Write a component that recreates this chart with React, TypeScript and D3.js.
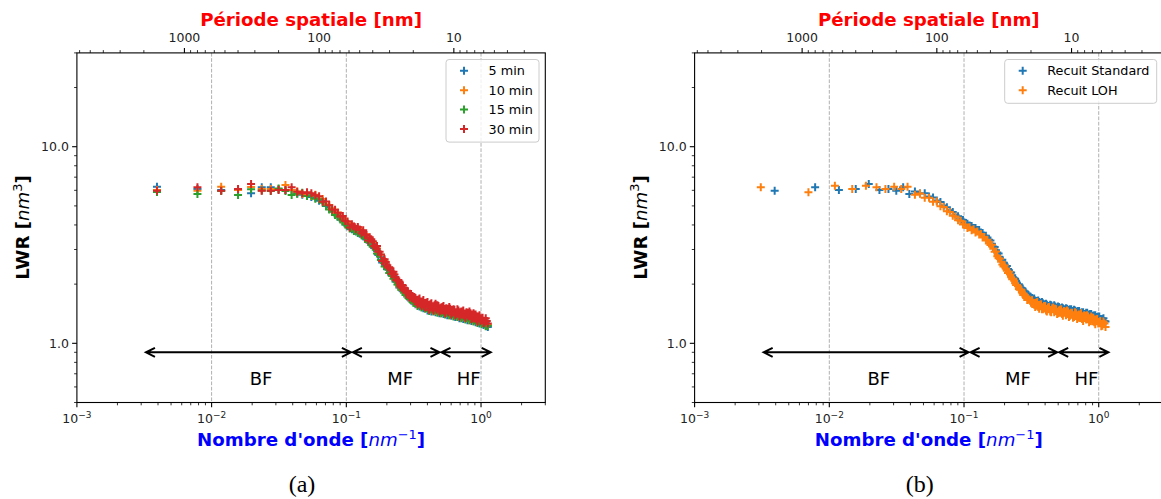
import React from "react";
import * as d3 from "d3";

// ---------------- data ----------------
const K_GRID = [
  0.00393, 0.00785, 0.01178, 0.01571, 0.01963, 0.02356, 0.02749, 0.03142, 0.03534, 0.03927,
  0.0432, 0.0471, 0.0511, 0.055, 0.0589, 0.0628, 0.0668, 0.0707, 0.0746, 0.0785,
  0.0825, 0.0864, 0.0903, 0.0942, 0.0982, 0.1021, 0.106, 0.11, 0.1139, 0.1178,
  0.1217, 0.1257, 0.1296, 0.1335, 0.1374, 0.1414, 0.1453, 0.1492, 0.1571, 0.161,
  0.1689, 0.1728, 0.1806, 0.1846, 0.1924, 0.2003, 0.2081, 0.216, 0.2238, 0.2317,
  0.2395, 0.2474, 0.2553, 0.2631, 0.2749, 0.2827, 0.2945, 0.3024, 0.3142, 0.3259,
  0.3377, 0.3495, 0.3613, 0.3731, 0.3848, 0.4006, 0.4123, 0.428, 0.4438, 0.4595,
  0.4752, 0.4909, 0.5066, 0.5262, 0.5419, 0.5616, 0.5812, 0.6008, 0.6244, 0.644,
  0.6676, 0.6912, 0.7147, 0.7383, 0.7658, 0.7933, 0.8207, 0.8482, 0.8796, 0.9111,
  0.9425, 0.9739, 1.0092, 1.0446, 1.0839, 1.1231,
];
// extra wavenumbers, interleaved in the dense part of the spectrum
const K_EXTRA = [
  0.1532, 0.1649, 0.1767, 0.1885, 0.1964, 0.2042, 0.2121, 0.2199, 0.2278, 0.2356,
  0.2435, 0.2513, 0.2592, 0.267, 0.271, 0.2788, 0.2867, 0.2906, 0.2985, 0.3063, 0.3102,
  0.3201, 0.3318, 0.3436, 0.3554, 0.3672, 0.379, 0.3927, 0.4064, 0.4202, 0.4359,
  0.4516, 0.4673, 0.483, 0.4987, 0.5164, 0.5341, 0.5517, 0.5714, 0.591, 0.6126,
  0.6342, 0.6558, 0.6794, 0.7029, 0.7265, 0.752, 0.7795, 0.807, 0.8345, 0.8639,
  0.8954, 0.9268, 0.9582, 0.9916, 1.0269, 1.0642, 1.1035,
];
const K_LOH_LOW = [0.0031, 0.007, 0.011, 0.0148, 0.0187, 0.0224, 0.0261, 0.0303, 0.0342, 0.0381];

const LWR_5MIN = [
  6.26, 6.09, 6.02, 6.02, 5.79, 6.22, 6.22, 6.05, 6.02, 6.02,
  5.78, 5.7, 5.66, 5.55, 5.5, 5.31, 5.3, 5.0, 4.9, 4.67,
  4.62, 4.4, 4.37, 4.16, 4.12, 3.94, 3.95, 3.8, 3.83, 3.7,
  3.74, 3.61, 3.66, 3.5, 3.52, 3.37, 3.4, 3.25, 3.2, 3.05,
  2.96, 2.81, 2.75, 2.58, 2.55, 2.39, 2.36, 2.22, 2.2, 2.06,
  2.05, 1.92, 1.93, 1.84, 1.81, 1.73, 1.73, 1.65, 1.66, 1.58,
  1.6, 1.54, 1.56, 1.51, 1.55, 1.47, 1.51, 1.45, 1.5, 1.44,
  1.48, 1.42, 1.47, 1.41, 1.45, 1.39, 1.43, 1.38, 1.42, 1.36,
  1.4, 1.34, 1.39, 1.33, 1.37, 1.31, 1.36, 1.3, 1.34, 1.28,
  1.32, 1.26, 1.3, 1.24, 1.27, 1.21,
];
const LWR_10MIN = [
  6.02, 5.97, 6.26, 6.02, 6.24, 6.09, 6.09, 6.09, 6.39, 6.02,
  5.92, 5.74, 5.8, 5.62, 5.7, 5.45, 5.42, 5.1, 5.05, 4.86,
  4.6, 4.63, 4.4, 4.33, 4.1, 4.12, 4.02, 3.86, 3.92, 3.76,
  3.85, 3.7, 3.75, 3.58, 3.6, 3.44, 3.47, 3.33, 3.28, 3.12,
  3.04, 2.87, 2.82, 2.64, 2.62, 2.44, 2.42, 2.26, 2.25, 2.1,
  2.09, 1.95, 1.96, 1.86, 1.83, 1.75, 1.75, 1.67, 1.67, 1.6,
  1.58, 1.58, 1.54, 1.55, 1.52, 1.51, 1.48, 1.49, 1.46, 1.47,
  1.45, 1.46, 1.42, 1.45, 1.41, 1.43, 1.39, 1.42, 1.38, 1.4,
  1.37, 1.39, 1.35, 1.37, 1.33, 1.35, 1.31, 1.34, 1.3, 1.32,
  1.28, 1.3, 1.26, 1.28, 1.23, 1.24,
];
const LWR_15MIN = [
  5.88, 5.75, 5.95, 5.68, 6.07, 5.99, 5.95, 6.13, 5.95, 5.68,
  5.76, 5.84, 5.62, 5.64, 5.44, 5.4, 5.18, 5.04, 4.8, 4.7,
  4.5, 4.44, 4.26, 4.2, 4.02, 3.99, 3.84, 3.85, 3.73, 3.76,
  3.64, 3.66, 3.55, 3.55, 3.41, 3.42, 3.28, 3.3, 3.1, 3.09,
  2.86, 2.85, 2.65, 2.62, 2.46, 2.43, 2.28, 2.26, 2.13, 2.1,
  1.99, 1.96, 1.87, 1.87, 1.76, 1.76, 1.68, 1.69, 1.61, 1.62,
  1.55, 1.57, 1.52, 1.54, 1.5, 1.51, 1.46, 1.49, 1.45, 1.48,
  1.43, 1.46, 1.42, 1.44, 1.4, 1.43, 1.39, 1.41, 1.37, 1.4,
  1.36, 1.38, 1.34, 1.37, 1.32, 1.35, 1.31, 1.33, 1.29, 1.31,
  1.27, 1.29, 1.25, 1.27, 1.22, 1.23,
];
const LWR_30MIN = [
  5.97, 6.22, 5.97, 6.09, 6.46, 5.97, 5.97, 6.02, 6.02, 6.22,
  5.9, 5.8, 5.86, 5.79, 5.66, 5.6, 5.25, 5.27, 5.04, 4.8,
  4.78, 4.62, 4.41, 4.44, 4.19, 4.16, 3.88, 4.03, 3.93, 3.81,
  3.9, 3.79, 3.62, 3.76, 3.56, 3.56, 3.33, 3.46, 3.3, 3.13,
  3.13, 2.92, 2.83, 2.62, 2.68, 2.48, 2.44, 2.26, 2.31, 2.16,
  2.08, 2.06, 1.92, 1.97, 1.84, 1.85, 1.71, 1.78, 1.68, 1.7,
  1.58, 1.69, 1.55, 1.66, 1.52, 1.62, 1.48, 1.6, 1.47, 1.59,
  1.56, 1.45, 1.52, 1.55, 1.42, 1.5, 1.53, 1.4, 1.49, 1.39,
  1.49, 1.37, 1.45, 1.47, 1.35, 1.43, 1.45, 1.33, 1.42, 1.4,
  1.29, 1.39, 1.33, 1.27, 1.34, 1.26,
];
const LWR_30MIN_EXTRA = [
  3.38, 3.06, 2.92, 2.62, 2.59, 2.43, 2.41, 2.26, 2.24, 2.1,
  2.1, 1.97, 1.98, 1.88, 1.91, 1.81, 1.83, 1.76, 1.78, 1.7, 1.74,
  1.72, 1.62, 1.67, 1.58, 1.63, 1.55, 1.61, 1.52, 1.58, 1.5,
  1.56, 1.48, 1.55, 1.47, 1.53, 1.46, 1.51, 1.44, 1.5, 1.43,
  1.48, 1.41, 1.47, 1.4, 1.45, 1.38, 1.44, 1.37, 1.42, 1.34,
  1.4, 1.32, 1.37, 1.3, 1.35, 1.28, 1.3,
];
const LWR_STANDARD = [
  5.97, 6.22, 6.02, 6.09, 6.46, 6.02, 6.09, 5.97, 6.22, 5.75,
  5.92, 5.78, 5.8, 5.58, 5.52, 5.33, 5.24, 5.02, 4.92, 4.75,
  4.66, 4.5, 4.43, 4.28, 4.24, 4.1, 4.06, 3.97, 3.95, 3.86,
  3.86, 3.77, 3.77, 3.66, 3.64, 3.52, 3.52, 3.41, 3.33, 3.21,
  3.09, 2.97, 2.86, 2.73, 2.66, 2.52, 2.47, 2.35, 2.29, 2.17,
  2.13, 2.02, 2.0, 1.92, 1.85, 1.79, 1.76, 1.72, 1.7, 1.66,
  1.65, 1.61, 1.62, 1.59, 1.6, 1.56, 1.57, 1.54, 1.56, 1.53,
  1.54, 1.51, 1.53, 1.5, 1.51, 1.48, 1.5, 1.47, 1.49, 1.45,
  1.47, 1.44, 1.46, 1.42, 1.44, 1.41, 1.43, 1.39, 1.41, 1.37,
  1.39, 1.35, 1.37, 1.32, 1.34, 1.29,
];
const LWR_STANDARD_EXTRA = [
  3.36, 3.11, 2.9, 2.66, 2.58, 2.46, 2.39, 2.3, 2.22, 2.14,
  2.08, 2.0, 1.97, 1.91, 1.9, 1.84, 1.82, 1.79, 1.77, 1.73, 1.73,
  1.7, 1.69, 1.64, 1.65, 1.61, 1.62, 1.58, 1.59, 1.55, 1.57,
  1.54, 1.56, 1.52, 1.54, 1.51, 1.52, 1.49, 1.51, 1.48, 1.49,
  1.46, 1.48, 1.45, 1.46, 1.43, 1.44, 1.41, 1.43, 1.4, 1.41,
  1.38, 1.39, 1.36, 1.37, 1.33, 1.33, 1.3,
];
const LWR_LOH = [
  6.22, 5.86, 6.33, 6.09, 6.33, 6.22, 6.09, 6.26, 6.09, 6.26,
  5.7, 5.78, 5.5, 5.5, 5.25, 5.26, 4.98, 4.94, 4.7, 4.66,
  4.46, 4.42, 4.22, 4.2, 4.02, 4.02, 3.86, 3.89, 3.76, 3.8,
  3.66, 3.7, 3.58, 3.6, 3.45, 3.47, 3.33, 3.36, 3.16, 3.17,
  2.92, 2.93, 2.71, 2.69, 2.52, 2.49, 2.34, 2.31, 2.17, 2.13,
  2.02, 1.98, 1.89, 1.88, 1.76, 1.76, 1.66, 1.67, 1.61, 1.6,
  1.53, 1.62, 1.5, 1.58, 1.49, 1.55, 1.45, 1.53, 1.44, 1.52,
  1.5, 1.41, 1.47, 1.49, 1.38, 1.45, 1.47, 1.36, 1.43, 1.35,
  1.44, 1.33, 1.4, 1.42, 1.3, 1.38, 1.39, 1.28, 1.37, 1.35,
  1.25, 1.33, 1.28, 1.22, 1.29, 1.21,
];
const LWR_LOH_EXTRA = [
  3.22, 3.03, 2.77, 2.6, 2.46, 2.4, 2.28, 2.24, 2.12, 2.08,
  1.98, 1.95, 1.87, 1.86, 1.8, 1.77, 1.72, 1.73, 1.67, 1.67, 1.64,
  1.66, 1.57, 1.61, 1.53, 1.57, 1.49, 1.55, 1.47, 1.52, 1.45,
  1.51, 1.44, 1.49, 1.42, 1.48, 1.41, 1.46, 1.39, 1.45, 1.38,
  1.43, 1.36, 1.42, 1.35, 1.4, 1.33, 1.39, 1.32, 1.37, 1.3,
  1.35, 1.28, 1.32, 1.26, 1.3, 1.23, 1.26,
];

const X_DOMAIN = [1e-3, 3];
const Y_DOMAIN = [0.5, 30];
const X_MAJOR_EXP = ["\u22123", "\u22122", "\u22121", "0"];
const Y_MAJOR_LABELS = ["1.0", "10.0"];
const GRID_K = [0.01, 0.1, 1];
const REGION_EDGES = [0.0032, 0.11, 0.5, 1.2];
const REGION_NAMES = ["BF", "MF", "HF"];
const REGION_LABEL_K = [0.0233, 0.251, 0.81];
const REGION_ARROW_LWR = 0.9;
const REGION_LABEL_LWR = 0.658;
const TWO_PI = 2 * Math.PI;

const SERIES_A = [
  { name: "5 min", color: "#1f77b4", k: K_GRID, v: LWR_5MIN },
  { name: "10 min", color: "#ff7f0e", k: K_GRID, v: LWR_10MIN },
  { name: "15 min", color: "#2ca02c", k: K_GRID, v: LWR_15MIN },
  { name: "30 min", color: "#d62728", k: [...K_GRID, ...K_EXTRA], v: [...LWR_30MIN, ...LWR_30MIN_EXTRA] },
];
const SERIES_B = [
  { name: "Recuit Standard", color: "#1f77b4", k: [...K_GRID, ...K_EXTRA], v: [...LWR_STANDARD, ...LWR_STANDARD_EXTRA] },
  {
    name: "Recuit LOH",
    color: "#ff7f0e",
    k: [...K_LOH_LOW, ...K_GRID.slice(10), ...K_EXTRA],
    v: [...LWR_LOH, ...LWR_LOH_EXTRA],
  },
];

// ---------------- layout ----------------
const W = 1161;
const H = 499;
const PLOT_L = 76.9;
const PLOT_T = 52.9;
const PLOT_W = 468.4;
const PLOT_H = 349.6;
const FONT = "'DejaVu Sans', sans-serif";
const TICK_COLOR = "#222";
const MARK = 4;
const MARK_W = 2;

const isMajor = (v: number) => Math.abs(Math.log10(v) - Math.round(Math.log10(v))) < 1e-6;

function Panel({ id, dx, series, legendW, caption }: any) {
  const x0 = dx + PLOT_L;
  const x1 = x0 + PLOT_W;
  const y0 = PLOT_T;
  const y1 = PLOT_T + PLOT_H;
  const x = d3.scaleLog().domain(X_DOMAIN).range([x0, x1]);
  const y = d3.scaleLog().domain(Y_DOMAIN).range([y1, y0]);
  const xTicks = x.ticks();
  const yTicks = y.ticks();
  const pScale = d3.scaleLog().domain([TWO_PI / X_DOMAIN[1], TWO_PI / X_DOMAIN[0]]);
  const pTicks = pScale.ticks();
  const cx = (x0 + x1) / 2;

  const plusPath = (ks: number[], vs: number[]) => {
    const p = d3.path();
    ks.forEach((k, i) => {
      const px = x(k);
      const py = y(vs[i]);
      p.moveTo(px - MARK, py);
      p.lineTo(px + MARK, py);
      p.moveTo(px, py - MARK);
      p.lineTo(px, py + MARK);
    });
    return p.toString();
  };

  const arrowY = y(REGION_ARROW_LWR);
  const hl = 9;
  const hw = 4.5;

  const legX = x1 - 6.3 - legendW;
  const legY = 59.5;
  const rowH = 19.4;
  const legH = series.length * rowH + 5;

  const xMajors = xTicks.filter(isMajor);

  return (
    <g>
      <defs>
        <clipPath id={`clip-${id}`}>
          <rect x={x0} y={y0} width={PLOT_W} height={PLOT_H} />
        </clipPath>
      </defs>
      {GRID_K.map((g) => (
        <line key={g} x1={x(g)} x2={x(g)} y1={y0} y2={y1} stroke="#b0b0b0" strokeWidth={1} strokeDasharray="3.7,1.6" />
      ))}
      <g clipPath={`url(#clip-${id})`}>
        {series.map((s: any) => (
          <path key={s.name} d={plusPath(s.k, s.v)} stroke={s.color} strokeWidth={MARK_W} fill="none" />
        ))}
      </g>
      {REGION_NAMES.map((name, i) => {
        const a = x(REGION_EDGES[i]) + 1;
        const b = x(REGION_EDGES[i + 1]) - 1;
        const d = `M${a},${arrowY}H${b}M${a + hl},${arrowY - hw}L${a},${arrowY}L${a + hl},${arrowY + hw}M${b - hl},${arrowY - hw}L${b},${arrowY}L${b - hl},${arrowY + hw}`;
        return (
          <g key={name}>
            <path d={d} stroke="#000" strokeWidth={2} fill="none" strokeLinejoin="miter" />
            <text x={x(REGION_LABEL_K[i])} y={y(REGION_LABEL_LWR) + 6.3} textAnchor="middle" fontSize={18} fontFamily={FONT} fill="#000">
              {name}
            </text>
          </g>
        );
      })}
      <rect x={x0} y={y0} width={PLOT_W} height={PLOT_H} fill="none" stroke="#000" strokeWidth={1.1} />
      {xTicks.map((t) => (
        <line key={`bx${t}`} x1={x(t)} x2={x(t)} y1={y1} y2={y1 + (isMajor(t) ? 4.8 : 2.8)} stroke="#000" strokeWidth={isMajor(t) ? 1.1 : 0.8} />
      ))}
      {xMajors.map((t, i) => (
        <text key={`bl${t}`} x={x(t)} y={y1 + 20.8} textAnchor="middle" fontSize={12.5} fontFamily={FONT} fill={TICK_COLOR}>
          10<tspan dy={-5.2} fontSize={9}>{X_MAJOR_EXP[i]}</tspan>
        </text>
      ))}
      {pTicks.map((p) => (
        <line key={`tp${p}`} x1={x(TWO_PI / p)} x2={x(TWO_PI / p)} y1={y0} y2={y0 - (isMajor(p) ? 4.8 : 2.8)} stroke="#000" strokeWidth={isMajor(p) ? 1.1 : 0.8} />
      ))}
      {pTicks.filter(isMajor).map((p) => (
        <text key={`tl${p}`} x={x(TWO_PI / p)} y={y0 - 10.6} textAnchor="middle" fontSize={12.5} fontFamily={FONT} fill={TICK_COLOR}>
          {d3.format("d")(p)}
        </text>
      ))}
      {yTicks.map((t) => (
        <line key={`ly${t}`} x1={x0} x2={x0 - (isMajor(t) ? 4.8 : 2.8)} y1={y(t)} y2={y(t)} stroke="#000" strokeWidth={isMajor(t) ? 1.1 : 0.8} />
      ))}
      {yTicks.filter(isMajor).map((t, i) => (
        <text key={`yl${t}`} x={x0 - 8} y={y(t) + 4.6} textAnchor="end" fontSize={12.5} fontFamily={FONT} fill={TICK_COLOR}>
          {Y_MAJOR_LABELS[i]}
        </text>
      ))}
      <text x={cx} y={26} textAnchor="middle" fontSize={18.2} fontWeight="bold" fontFamily={FONT} fill="#ff0000">
        Période spatiale [nm]
      </text>
      <text x={cx} y={446} textAnchor="middle" fontSize={18.2} fontWeight="bold" fontFamily={FONT} fill="#0000ff">
        Nombre d'onde [<tspan fontStyle="italic" fontWeight="normal">nm</tspan>
        <tspan dy={-7.5} fontSize={13} fontWeight="normal">−1</tspan>
        <tspan dy={7.5}>]</tspan>
      </text>
      <text transform={`translate(${dx + 29},227.5) rotate(-90)`} textAnchor="middle" fontSize={18.2} fontWeight="bold" fontFamily={FONT} fill="#000">
        LWR [<tspan fontStyle="italic" fontWeight="normal">nm</tspan>
        <tspan dy={-7.5} fontSize={13} fontWeight="normal">3</tspan>
        <tspan dy={7.5}>]</tspan>
      </text>
      <rect x={legX} y={legY} width={legendW} height={legH} rx={3} fill="#fff" fillOpacity={0.8} stroke="#cccccc" strokeWidth={1} />
      {series.map((s: any, i: number) => {
        const ly = legY + 11.3 + i * rowH;
        const lx = legX + 18;
        return (
          <g key={`lg${s.name}`}>
            <path d={`M${lx - MARK},${ly}H${lx + MARK}M${lx},${ly - MARK}V${ly + MARK}`} stroke={s.color} strokeWidth={MARK_W} />
            <text x={legX + 42.5} y={ly + 4.5} fontSize={12.8} fontFamily={FONT} fill="#000">
              {s.name}
            </text>
          </g>
        );
      })}
      <text x={dx + 302} y={492} textAnchor="middle" fontSize={24} fontFamily="'Liberation Serif', serif" fill="#000">
        {caption}
      </text>
    </g>
  );
}

export default function App() {
  return (
    <svg width={W} height={H} viewBox={`0 0 ${W} ${H}`} style={{ position: "absolute", left: 0, top: 0, background: "#fff" }}>
      <rect x={0} y={0} width={W} height={H} fill="#fff" />
      <Panel id="a" dx={0} series={SERIES_A} legendW={93} caption="(a)" />
      <Panel id="b" dx={617.7} series={SERIES_B} legendW={152} caption="(b)" />
    </svg>
  );
}
